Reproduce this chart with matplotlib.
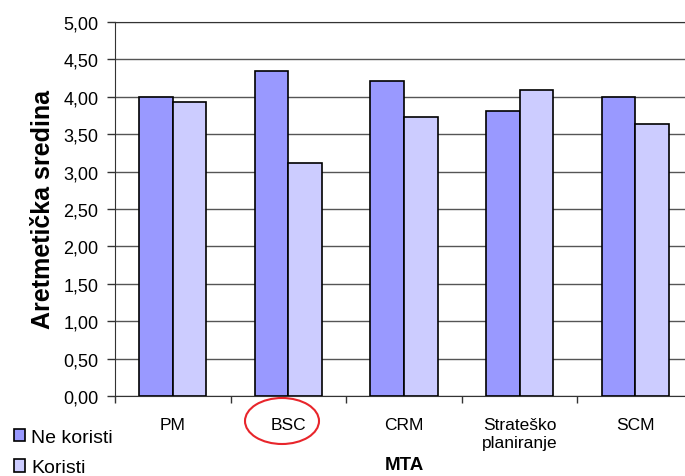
import matplotlib
matplotlib.use("Agg")
import matplotlib.pyplot as plt
import numpy as np
from matplotlib.patches import Ellipse

plt.rcParams['font.family'] = ['Liberation Sans', 'DejaVu Sans']

categories = ["PM", "BSC", "CRM", "Strateško\nplaniranje", "SCM"]
ne_koristi = [4.00, 4.35, 4.21, 3.81, 4.00]
koristi = [3.93, 3.12, 3.73, 4.09, 3.64]
yticks = [0, 0.5, 1, 1.5, 2, 2.5, 3, 3.5, 4, 4.5, 5]
ytick_labels = ["0,00", "0,50", "1,00", "1,50", "2,00", "2,50", "3,00", "3,50", "4,00", "4,50", "5,00"]

fig = plt.figure(figsize=(6.85, 4.77), dpi=100)
ax = fig.add_axes([0.1679, 0.1677, 0.8438, 0.7843])

x = np.arange(len(categories))
w = 0.29
b1 = ax.bar(x - w/2, ne_koristi, w, color="#9999FF", edgecolor="black", linewidth=1.2, label="Ne koristi", zorder=3)
b2 = ax.bar(x + w/2, koristi, w, color="#CCCCFF", edgecolor="black", linewidth=1.2, label="Koristi", zorder=3)

ax.set_xlim(-0.5, len(categories) - 0.5)
ax.set_ylim(0, 5)
ax.set_yticks(yticks)
ax.set_yticklabels(ytick_labels, fontsize=13)
ax.yaxis.grid(True, color="#555555", linewidth=1.0, zorder=0)
ax.set_axisbelow(True)

ax.set_xticks(np.arange(len(categories) + 1) - 0.5)
ax.set_xticklabels([])
ax.set_xticks(x, minor=True)
ax.set_xticklabels(categories, minor=True, fontsize=12.5, linespacing=1.3)
ax.tick_params(axis='x', which='minor', length=0, pad=15)
ax.tick_params(axis='x', which='major', length=5, width=1, color="#333333")
ax.tick_params(axis='y', length=6, width=1, color="#333333", pad=6)
for lbl in ax.get_xticklabels(minor=True):
    lbl.set_verticalalignment('top')

ax.spines["right"].set_visible(False)
for s in ["top", "left", "bottom"]:
    ax.spines[s].set_color("#333333")

ax.set_ylabel("Aretmetička sredina", fontsize=18, fontweight="bold", labelpad=6)
fig.text(0.591, 0.015, "MTA", fontsize=13.5, fontweight="bold", ha="center", va="baseline")

ax.legend(handles=[b1, b2], loc="lower left", bbox_to_anchor=(0.003, -0.025),
          bbox_transform=fig.transFigure, frameon=False, fontsize=14,
          handlelength=0.6, handleheight=0.6, handletextpad=0.3, labelspacing=0.7,
          borderaxespad=0.2)

ell = Ellipse((282 / 685, 1 - 422 / 477), 74 / 685, 46 / 477, transform=fig.transFigure,
              fill=False, edgecolor="#E8252B", linewidth=1.5, clip_on=False)
fig.add_artist(ell)

fig.savefig("out.png", dpi=100)
